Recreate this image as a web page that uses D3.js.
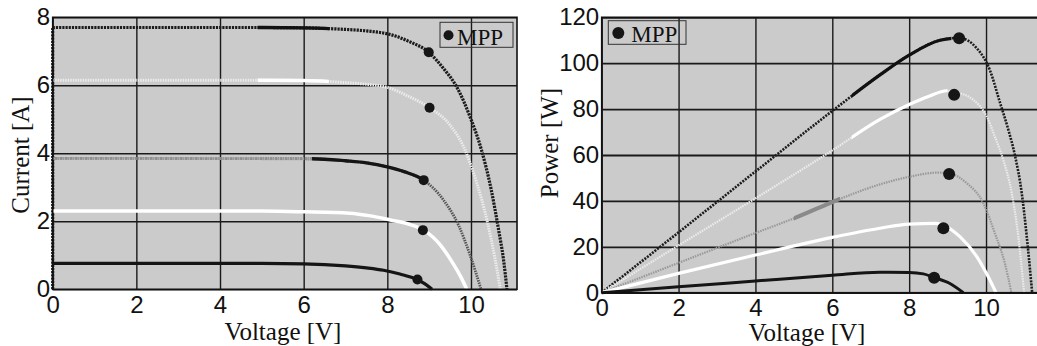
<!DOCTYPE html>
<html>
<head>
<meta charset="utf-8">
<script src="https://cdn.jsdelivr.net/npm/d3@7"></script>
<style>
  body { margin: 0; background: #fff; }
  svg { display: block; }
  .tick text { font-family: "Liberation Sans", Arial, sans-serif; font-size: 24px; fill: #111; }
  .title { font-family: "Liberation Serif", "Times New Roman", serif; font-size: 25px; fill: #111; }
  .legend { font-family: "Liberation Serif", "Times New Roman", serif; font-size: 23px; fill: #111; }
</style>
</head>
<body>
<svg id="chart" width="1037" height="346"></svg>
<script>
// I-V curves, [voltage V, current A]
const ivCurve1 = [[0,7.7],[2,7.7],[4,7.7],[5,7.7],[6,7.69],[6.9,7.65],[7.5,7.6],[8.05,7.5],[8.5,7.3],[8.99,6.97],[9.34,6.5],[9.66,5.95],[10.0,5.0],[10.25,4.1],[10.48,2.95],[10.66,1.75],[10.78,0.85],[10.86,0]]
const ivCurve2 = [[0,6.15],[5,6.15],[6,6.14],[7,6.08],[7.5,6.03],[8,5.94],[8.5,5.68],[9.01,5.34],[9.5,4.83],[9.82,4.2],[10.14,3.12],[10.38,2.04],[10.58,0.86],[10.7,0]]
const ivCurve3 = [[0,3.85],[6.2,3.84],[7,3.78],[7.5,3.72],[8,3.6],[8.4,3.46],[8.87,3.21],[9.34,2.63],[9.7,1.89],[9.98,1.0],[10.24,0]]
const ivCurve4 = [[0,2.3],[5,2.3],[6,2.28],[7.1,2.24],[7.6,2.16],[8.07,2.04],[8.5,1.92],[8.87,1.74],[9.27,1.3],[9.55,0.8],[9.75,0.38],[9.9,0]]
const ivCurve5 = [[0,0.76],[5,0.76],[6,0.75],[7,0.69],[7.5,0.63],[7.91,0.56],[8.3,0.45],[8.71,0.29],[8.9,0.16],[9.07,0]]
const ivMpp = [[8.99,6.97],[9.01,5.34],[8.87,3.21],[8.85,1.74],[8.72,0.29]]

// P-V curves, [voltage V, power W]
const pvCurve1 = [[0,0],[2,26.3],[4,52.8],[6,79.2],[7.24,94.9],[8,103.5],[8.8,110],[9.3,111],[9.76,106.5],[10.1,97],[10.36,83],[10.58,71],[10.75,60],[10.93,43.3],[11.06,24.4],[11.2,0]]
const pvCurve2 = [[0,0],[2,20.6],[4,41.1],[6,62],[7.24,75.5],[8,82],[8.5,85.5],[8.98,88],[9.17,87.5],[9.67,84],[10.02,76.7],[10.23,68],[10.45,57.8],[10.67,43.3],[10.84,24.4],[10.99,0]]
const pvCurve3 = [[0,0],[2,13],[4,26],[5,32.4],[6,39.5],[7.24,47.2],[8,50.5],[8.72,52.3],[9.04,52],[9.5,47.7],[9.93,39],[10.23,25.9],[10.49,12.8],[10.66,0]]
const pvCurve4 = [[0,0],[2,8.4],[4,16.4],[6,24.1],[7.24,28.1],[8,29.9],[8.67,30.2],[9.0,28.5],[9.32,24.4],[9.76,15.7],[10.1,5.5],[10.26,0]]
const pvCurve5 = [[0,0],[2,2.6],[4,5.1],[6,7.6],[7.24,8.9],[8,8.8],[8.37,8.2],[8.65,6.6],[9.06,4.0],[9.41,0]]
const pvMpp = [[9.3,110.9],[9.17,86.2],[9.04,51.7],[8.89,28.1],[8.65,6.5]]

const voltageTicks = [0, 2, 4, 6, 8, 10]
const currentTicks = [0, 2, 4, 6, 8]
const powerTicks = [0, 20, 40, 60, 80, 100, 120]
const legendLabel = "MPP"

// line looks: base stroke plus solid stretches (in volts) drawn on top
const ivStyles = [
  { color: "#1c1c1c", dash: "2.2,1", width: 3.2, leader: true, segs: [{ from: 4.9, to: 6.6, color: "#111", width: 3.4 }] },
  { color: "#ececec", dash: "1.5,1", width: 3, segs: [{ from: 4.9, to: 6.6, color: "#fff", width: 3.4 }] },
  { color: "#555", dash: "1.5,1", width: 2.8, segs: [{ from: 0, to: 6.2, color: "#9a9a9a", dash: "1.5,1", width: 3 }, { from: 6.2, to: 8.9, color: "#151515", width: 3.4 }] },
  { color: "#fff", width: 3.5, segs: [] },
  { color: "#151515", width: 3.2, segs: [] }
]
const pvStyles = [
  { color: "#1c1c1c", dash: "2,1.2", width: 2.6, segs: [{ from: 6.5, to: 9.1, color: "#111", width: 3.2 }] },
  { color: "#ececec", dash: "1.5,1", width: 2.2, segs: [{ from: 6.5, to: 9.0, color: "#fff", width: 3.2 }] },
  { color: "#999", dash: "1.5,1", width: 2.2, segs: [{ from: 5, to: 6.2, color: "#8a8a8a", width: 4 }] },
  { color: "#fff", width: 3.2, segs: [] },
  { color: "#151515", width: 3, segs: [] }
]

const svg = d3.select("#chart")
let clipCount = 0

function drawPanel(p) {
  const xs = d3.scaleLinear().domain(p.xDomain).range(p.xRange)
  const ys = d3.scaleLinear().domain(p.yDomain).range(p.yRange)
  const left = p.xRange[0], right = Math.min(p.xRange[1], 1040)
  const top = p.yRange[1], bottom = p.yRange[0]
  const g = svg.append("g")

  g.append("rect")
    .attr("x", left).attr("y", top)
    .attr("width", right - left).attr("height", bottom - top)
    .attr("fill", "#cbcbcb")

  // grid lines and tick labels
  g.append("g")
    .attr("transform", "translate(0," + bottom + ")")
    .call(d3.axisBottom(xs).tickValues(p.xTicks).tickSize(-(bottom - top)).tickPadding(6.5).tickFormat(d3.format("d")))
    .call(a => a.select(".domain").remove())
    .call(a => a.selectAll(".tick line").attr("stroke", "#1a1a1a").attr("stroke-width", 1.4))

  g.append("g")
    .attr("transform", "translate(" + left + ",0)")
    .call(d3.axisLeft(ys).tickValues(p.yTicks).tickSize(-(right - left)).tickPadding(2.5).tickFormat(d3.format("d")))
    .call(a => a.select(".domain").remove())
    .call(a => a.selectAll(".tick line").attr("stroke", "#1a1a1a").attr("stroke-width", p.hGridWidth))

  const line = d3.line()
    .x(d => xs(d[0]))
    .y(d => ys(d[1]))
    .curve(d3.curveMonotoneX)

  p.series.forEach(function (data, i) {
    const st = p.styles[i]
    if (st.leader) {
      g.append("path")
        .attr("d", d3.line().x(d => xs(d[0])).y(d => ys(d[1]))([[data[0][0], 0], data[0]]))
        .attr("fill", "none")
        .attr("stroke", st.color)
        .attr("stroke-width", st.width)
        .attr("stroke-dasharray", st.dash)
    }
    g.append("path")
      .attr("d", line(data))
      .attr("fill", "none")
      .attr("stroke", st.color)
      .attr("stroke-width", st.width)
      .attr("stroke-dasharray", st.dash || null)

    st.segs.forEach(function (s) {
      const id = "seg" + (clipCount++)
      g.append("clipPath").attr("id", id)
        .append("rect")
        .attr("x", xs(s.from)).attr("y", top - 10)
        .attr("width", xs(s.to) - xs(s.from)).attr("height", bottom - top + 20)
      g.append("path")
        .attr("d", line(data))
        .attr("clip-path", "url(#" + id + ")")
        .attr("fill", "none")
        .attr("stroke", s.color)
        .attr("stroke-width", s.width)
        .attr("stroke-dasharray", s.dash || null)
    })
  })

  // maximum power points
  g.selectAll(".mpp")
    .data(p.mpp)
    .join("circle")
    .attr("class", "mpp")
    .attr("cx", d => xs(d[0]))
    .attr("cy", d => ys(d[1]))
    .attr("r", p.dotR)
    .attr("fill", "#161616")

  // frame
  g.append("rect")
    .attr("x", left).attr("y", top)
    .attr("width", right - left).attr("height", bottom - top)
    .attr("fill", "none")
    .attr("stroke", "#111")
    .attr("stroke-width", 1.6)

  // legend
  const lg = p.legend
  g.append("rect")
    .attr("x", lg.x).attr("y", lg.y)
    .attr("width", lg.w).attr("height", lg.h)
    .attr("fill", "none")
    .attr("stroke", "#333")
    .attr("stroke-width", 1)
  g.append("circle")
    .attr("cx", lg.x + lg.dotDx).attr("cy", lg.y + lg.h / 2 + 0.5)
    .attr("r", p.dotR)
    .attr("fill", "#161616")
  g.append("text")
    .attr("class", "legend")
    .attr("x", lg.x + lg.textDx).attr("y", lg.y + lg.h - 2)
    .text(legendLabel)

  // axis titles
  g.append("text")
    .attr("class", "title")
    .attr("x", p.xTitle[0]).attr("y", p.xTitle[1])
    .attr("text-anchor", "middle")
    .text(p.xLabel)
  g.append("text")
    .attr("class", "title")
    .attr("transform", "translate(" + p.yTitle[0] + "," + p.yTitle[1] + ") rotate(-90)")
    .attr("text-anchor", "middle")
    .text(p.yLabel)
}

drawPanel({
  xDomain: [0, 11.1], xRange: [52.7, 517],
  yDomain: [0, 8], yRange: [289.3, 17.3],
  xTicks: voltageTicks, yTicks: currentTicks, hGridWidth: 1.4,
  series: [ivCurve1, ivCurve2, ivCurve3, ivCurve4, ivCurve5],
  styles: ivStyles, mpp: ivMpp, dotR: 5,
  legend: { x: 440, y: 22.3, w: 73, h: 25, dotDx: 8.5, textDx: 17 },
  xLabel: "Voltage [V]", xTitle: [283, 339.5],
  yLabel: "Current [A]", yTitle: [28.5, 155]
})

drawPanel({
  xDomain: [0, 12], xRange: [601.7, 1062.9],
  yDomain: [0, 120], yRange: [292.7, 17.3],
  xTicks: voltageTicks, yTicks: powerTicks, hGridWidth: 1.8,
  series: [pvCurve1, pvCurve2, pvCurve3, pvCurve4, pvCurve5],
  styles: pvStyles, mpp: pvMpp, dotR: 6,
  legend: { x: 608.3, y: 20.7, w: 77.7, h: 23.6, dotDx: 10, textDx: 23 },
  xLabel: "Voltage [V]", xTitle: [807, 340.5],
  yLabel: "Power [W]", yTitle: [557.5, 143]
})
</script>
</body>
</html>
